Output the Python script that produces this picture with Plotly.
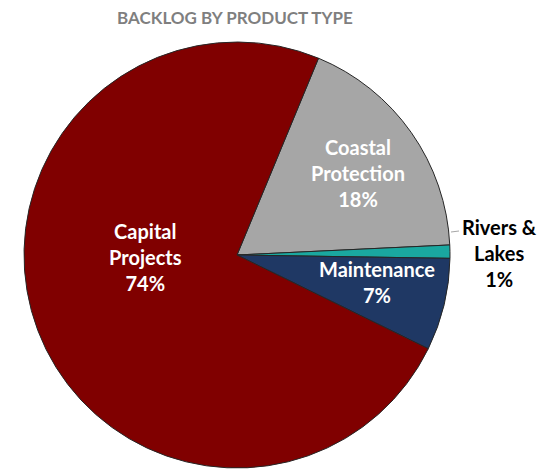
import plotly.graph_objects as go

categories = ["Coastal Protection", "Rivers & Lakes", "Maintenance", "Capital Projects"]
label_text = ["Coastal<br>Protection", "Rivers &<br>Lakes", "Maintenance", "Capital<br>Projects"]
values = [18, 1, 7, 74]
colors = ["#A6A6A6", "#1AA8A0", "#1F3864", "#800000"]
text_colors = ["white", "black", "white", "white"]

W, H = 546, 472
CX, CY, R = 229, 247, 213          # pie centre / radius in figure pixels
L, T = CX - R, CY - R
PW = PH = 2 * R

def px(x):
    return (x - L) / PW

def py(y):
    return 1 - (y - T) / PH

fig = go.Figure(go.Pie(
    labels=categories,
    values=values,
    sort=False,
    direction="clockwise",
    rotation=22.5,
    marker=dict(colors=colors, line=dict(color="#262626", width=1)),
    textinfo="none",
    hoverinfo="label+percent",
    showlegend=False,
    domain=dict(x=[0, 1], y=[0, 1]),
))

# label offsets from pie centre (pixels)
label_offsets = [(121, -82), (262, -2), (140, 27), (-92, 2)]
total = sum(values)
for name, v, col, (dx, dy) in zip(label_text, values, text_colors, label_offsets):
    fig.add_annotation(
        x=px(CX + dx), y=py(CY + dy), xref="paper", yref="paper",
        xanchor="center", yanchor="middle",
        text=f"<b>{name}<br>{round(100 * v / total)}%</b>", showarrow=False,
        font=dict(family="Lato", size=20, color=col), align="center",
    )

# short leader line for the small slice
fig.add_shape(type="line", xref="paper", yref="paper",
              x0=px(CX + 214), x1=px(CX + 222), y0=py(CY - 23), y1=py(CY - 24),
              line=dict(color="#A6A6A6", width=1))

fig.update_layout(
    width=W, height=H,
    margin=dict(l=L, r=W - L - PW, t=T, b=H - T - PH, pad=0),
    paper_bgcolor="white",
    title=dict(text="<b>BACKLOG BY PRODUCT TYPE</b>", x=227 / W, xanchor="center",
               y=1 - 4 / H, yanchor="top", pad=dict(t=0, b=0),
               font=dict(family="Lato", size=17, color="#7F7F7F")),
)

fig.write_html("out.html")
